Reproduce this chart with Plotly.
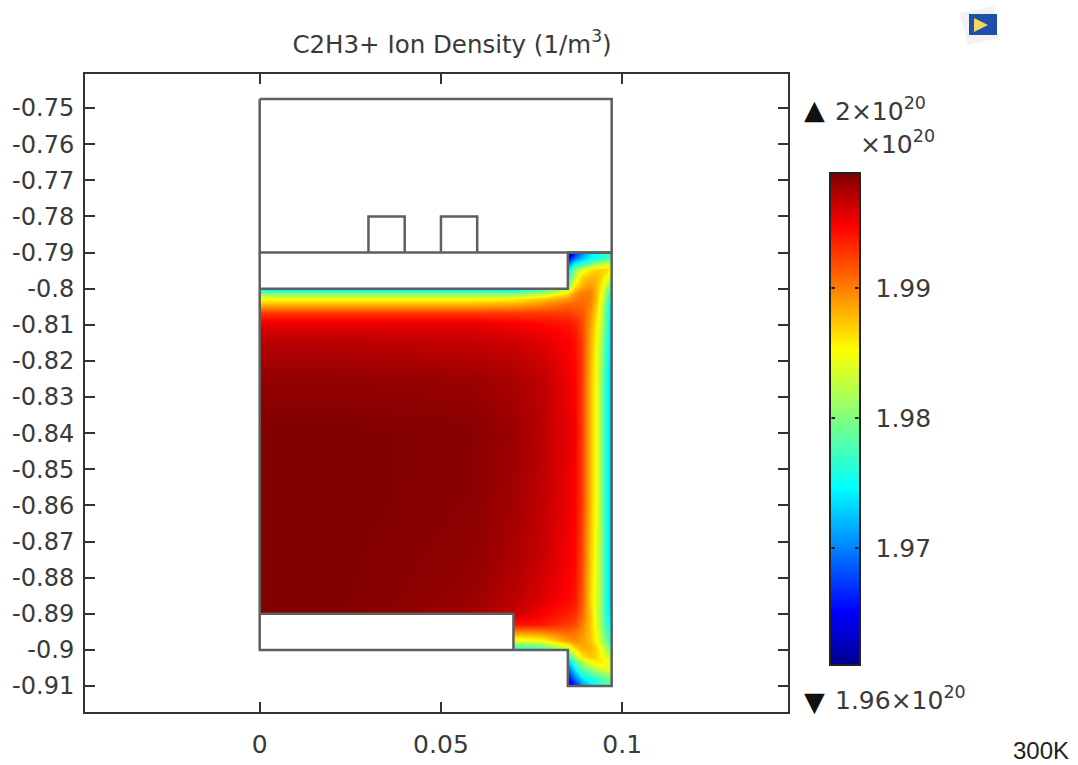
import numpy as np
import plotly.graph_objects as go

W, H = 1078, 765
L, R, T, B = 85, 788, 74, 712
X_RANGE = [(L - 259.7) / 3625, (R - 259.7) / 3625]
Y_RANGE = [-0.75 - (B - 108) / 3612.5, -0.75 + (108 - T) / 3612.5]

title_text = "C2H3+ Ion Density (1/m<sup>3</sup>)"
x_ticks = [0, 0.05, 0.1]
x_tick_labels = ["0", "0.05", "0.1"]
y_ticks = [round(-0.75 - 0.01 * i, 2) for i in range(17)]
y_tick_labels = ["-0.75", "-0.76", "-0.77", "-0.78", "-0.79", "-0.8", "-0.81", "-0.82", "-0.83",
                 "-0.84", "-0.85", "-0.86", "-0.87", "-0.88", "-0.89", "-0.9", "-0.91"]
cbar_ticks = [1.97, 1.98, 1.99]
z_min, z_max = 1.961, 1.99885

# grid positions (m)
grid_x = [0, .0193, .0386, .0579, .07, .0775, .085, .0868, .0888, .091, .0927, .094, .0955, .0971]
grid_y = [-.79, -.7914, -.7931, -.7947, -.797, -.799, -.80, -.8011, -.8028, -.8044, -.8066, -.8097,
          -.815, -.825, -.839, -.858, -.875, -.886, -.89, -.893, -.895, -.8973, -.8987, -.90,
          -.9017, -.9033, -.9055, -.9077, -.91]

# density (1e20 / m^3), one row per grid_y
density = [
 [1.973,1.973,1.973,1.973,1.973,1.976,1.962,1.966,1.970,1.974,1.975,1.976,1.977,1.977],
 [1.973,1.973,1.973,1.973,1.973,1.976,1.964,1.969,1.972,1.974,1.975,1.976,1.977,1.977],
 [1.973,1.973,1.973,1.973,1.973,1.976,1.969,1.975,1.976,1.979,1.981,1.982,1.983,1.982],
 [1.973,1.973,1.973,1.973,1.973,1.976,1.973,1.980,1.984,1.986,1.987,1.987,1.987,1.985],
 [1.973,1.973,1.973,1.973,1.973,1.976,1.976,1.983,1.987,1.988,1.988,1.987,1.985,1.982],
 [1.973,1.973,1.973,1.973,1.973,1.976,1.979,1.986,1.988,1.989,1.988,1.986,1.983,1.979],
 [1.973,1.973,1.973,1.973,1.973,1.976,1.982,1.987,1.989,1.9895,1.988,1.986,1.982,1.977],
 [1.979,1.979,1.979,1.979,1.979,1.981,1.986,1.989,1.990,1.990,1.988,1.985,1.981,1.975],
 [1.985,1.985,1.985,1.985,1.9855,1.987,1.989,1.990,1.9905,1.990,1.988,1.985,1.980,1.974],
 [1.988,1.988,1.988,1.988,1.9885,1.9895,1.991,1.991,1.991,1.990,1.9875,1.984,1.979,1.973],
 [1.9925,1.9925,1.9925,1.9925,1.9925,1.9925,1.9925,1.992,1.9915,1.9895,1.987,1.984,1.978,1.973],
 [1.9955,1.9955,1.9955,1.9955,1.995,1.9945,1.994,1.9935,1.992,1.989,1.986,1.983,1.978,1.972],
 [1.9970,1.9970,1.9968,1.9966,1.9963,1.9958,1.9948,1.9942,1.9925,1.9885,1.9855,1.982,1.977,1.972],
 [1.9982,1.9982,1.9981,1.9979,1.9974,1.9968,1.9952,1.9947,1.9925,1.988,1.985,1.981,1.976,1.972],
 [1.9988,1.9988,1.9987,1.9986,1.9979,1.9970,1.9955,1.995,1.9925,1.988,1.985,1.981,1.976,1.972],
 [1.9988,1.9988,1.9987,1.9985,1.9977,1.9968,1.9953,1.9947,1.9925,1.988,1.985,1.981,1.976,1.972],
 [1.9988,1.9988,1.9986,1.9983,1.9974,1.9965,1.995,1.9945,1.992,1.9875,1.9845,1.981,1.976,1.972],
 [1.9988,1.9988,1.9985,1.9980,1.9969,1.9958,1.9945,1.994,1.9915,1.987,1.984,1.981,1.976,1.972],
 [1.9988,1.9988,1.9984,1.9977,1.9965,1.995,1.9935,1.993,1.991,1.9875,1.984,1.981,1.976,1.973],
 [1.9988,1.9988,1.9982,1.9975,1.994,1.9938,1.9925,1.992,1.990,1.9875,1.9845,1.981,1.977,1.974],
 [1.9988,1.9988,1.9982,1.9975,1.9895,1.990,1.991,1.9905,1.9895,1.9875,1.985,1.982,1.978,1.975],
 [1.9988,1.9988,1.9982,1.9975,1.984,1.985,1.989,1.9895,1.989,1.9875,1.9855,1.983,1.979,1.976],
 [1.9988,1.9988,1.9982,1.9975,1.979,1.980,1.985,1.988,1.9885,1.988,1.9865,1.984,1.981,1.978],
 [1.975,1.975,1.975,1.975,1.975,1.976,1.982,1.986,1.988,1.988,1.9868,1.985,1.982,1.979],
 [1.975,1.975,1.975,1.975,1.975,1.976,1.976,1.982,1.986,1.9875,1.9868,1.9855,1.984,1.981],
 [1.975,1.975,1.975,1.975,1.975,1.976,1.972,1.978,1.982,1.985,1.986,1.986,1.985,1.983],
 [1.975,1.975,1.975,1.975,1.975,1.976,1.968,1.974,1.978,1.980,1.982,1.983,1.984,1.984],
 [1.975,1.975,1.975,1.975,1.975,1.976,1.965,1.970,1.974,1.976,1.977,1.978,1.979,1.980],
 [1.975,1.975,1.975,1.975,1.975,1.976,1.962,1.965,1.970,1.973,1.975,1.976,1.977,1.978],
]

# geometry outlines (m)
outline_top = ([0, .0971, .0971, 0, 0], [-.7475, -.7475, -.79, -.79, -.7475])
outline_fin1 = ([.03, .03, .04, .04], [-.79, -.78, -.78, -.79])
outline_fin2 = ([.05, .05, .06, .06], [-.79, -.78, -.78, -.79])
outline_body = ([0, .085, .085, .0971, .0971, .085, .085, .07, .07, 0, 0, .07, .07, 0, 0, 0, 0, .085],
                [-.80, -.80, -.79, -.79, -.91, -.91, -.90, -.90, -.89, -.89, -.90, -.90, -.89, -.89, -.79, -.79, -.80, -.80])
mask_upper = (-.001, -.80, .085, -.789)
mask_lower = (-.001, -.90, .07, -.89)
mask_under = (-.001, -.911, .085, -.90)

jet = [[0, "#00008f"], [.11, "#0000ff"], [.36, "#00ffff"], [.64, "#ffff00"], [.89, "#ff0000"], [1, "#800000"]]
TXT = "#3a3a3a"
LINE = "#5f5f5f"
FONT = "DejaVu Sans"


def px(x):
    return (x - L) / (R - L)


def py(y):
    return (B - y) / (B - T)


# thin edge cells keep the colour field inside the domain
eps = 1e-5
gx = [grid_x[0] - eps] + grid_x + [grid_x[-1] + eps]
gy = [grid_y[0] + eps] + grid_y + [grid_y[-1] - eps]
gz = np.pad(np.array(density), 1, mode="edge")

fig = go.Figure()
fig.add_trace(go.Heatmap(
    x=gx, y=gy, z=gz, zmin=z_min, zmax=z_max, zsmooth="best", colorscale=jet, hoverinfo="skip",
    colorbar=dict(
        x=px(830), xanchor="left", xpad=0, y=py(173), yanchor="top", ypad=0,
        thickness=30, thicknessmode="pixels", len=492, lenmode="pixels",
        tickvals=cbar_ticks, ticktext=[f"{v:.2f}" for v in cbar_ticks],
        ticks="outside", ticklen=10, tickcolor="rgba(0,0,0,0)",
        tickfont=dict(family=FONT, size=25, color=TXT),
        outlinecolor="#222222", outlinewidth=2, borderwidth=0,
    ),
))

# white areas of the geometry sit over the colour field and under the outlines
for x0, y0, x1, y1 in (mask_upper, mask_lower, mask_under):
    fig.add_trace(go.Scatter(x=[x0, x1, x1, x0, x0], y=[y0, y0, y1, y1, y0], mode="lines", fill="toself",
                             fillcolor="white", line=dict(width=0, color="white"),
                             showlegend=False, hoverinfo="skip"))

for name, (xs, ys) in {"top": outline_top, "fin1": outline_fin1, "fin2": outline_fin2,
                       "body": outline_body}.items():
    fig.add_trace(go.Scatter(x=xs, y=ys, mode="lines", line=dict(color=LINE, width=2.5),
                             showlegend=False, hoverinfo="skip", name=name))

shapes = [
    dict(type="path", xref="paper", yref="paper", layer="above",
         path=f"M{px(960)},{py(13)} L{px(994)},{py(6)} L{px(998)},{py(38)} L{px(968)},{py(45)} Z",
         fillcolor="#f2f2f2", line_width=0),
    dict(type="rect", xref="paper", yref="paper", layer="above",
         x0=px(969), x1=px(997), y0=py(35), y1=py(14), fillcolor="#1f4fa8", line_width=0),
    dict(type="path", xref="paper", yref="paper", layer="above",
         path=f"M{px(974)},{py(18)} L{px(988)},{py(25)} L{px(974)},{py(32)} Z",
         fillcolor="#f2d75a", line_width=0),
]

ann = [
    dict(text="▲", x=px(814), y=py(110), size=27),
    dict(text="2×10<sup>20</sup>", x=px(880), y=py(110), size=25),
    dict(text="×10<sup>20</sup>", x=px(897), y=py(143), size=25),
    dict(text="▼", x=px(814), y=py(701), size=27),
    dict(text="1.96×10<sup>20</sup>", x=px(900), y=py(698), size=25),
]
annotations = [dict(text=a["text"], x=a["x"], y=a["y"], xref="paper", yref="paper", showarrow=False,
                    xanchor="center", yanchor="middle",
                    font=dict(family=FONT, size=a["size"], color="#111111" if a["text"] in "▲▼" else TXT))
               for a in ann]
annotations.append(dict(text="300K", x=px(1041), y=py(750), xref="paper", yref="paper", showarrow=False,
                        xanchor="center", yanchor="middle",
                        font=dict(family="Liberation Sans", size=24, color="#222222")))
# small ticks inside the colour bar, placed from the tick values
for v in cbar_ticks:
    yy = py(173 + (z_max - v) / (z_max - z_min) * 492)
    for tip, offset in ((835, -5), (855, 5)):
        annotations.append(dict(text="", x=px(tip), y=yy, xref="paper", yref="paper", showarrow=True,
                                ax=offset, ay=0, axref="pixel", ayref="pixel", arrowhead=0,
                                arrowwidth=2, arrowcolor="#222222", standoff=0, startstandoff=0))

axis = dict(showgrid=False, zeroline=False, showline=True, mirror="ticks", linecolor="#333333", linewidth=2,
            ticks="inside", ticklen=10, tickwidth=2, tickcolor="#333333")
fig.update_layout(
    width=W, height=H, autosize=False, paper_bgcolor="white", plot_bgcolor="white", showlegend=False,
    margin=dict(l=L, r=W - R, t=T, b=H - B, autoexpand=False),
    title=dict(text=title_text, x=452 / W, xref="container", xanchor="center",
               y=1 - 44 / H, yref="container", yanchor="middle",
               font=dict(family=FONT, size=24.5, color=TXT)),
    xaxis=dict(axis, range=X_RANGE, tickvals=x_ticks, ticktext=x_tick_labels,
               tickfont=dict(family=FONT, size=25, color=TXT), ticklabelstandoff=9),
    yaxis=dict(axis, range=Y_RANGE, tickvals=y_ticks, ticktext=y_tick_labels,
               tickfont=dict(family=FONT, size=24, color=TXT), ticklabelstandoff=4),
    shapes=shapes, annotations=annotations,
)
fig.write_html("out.html", config={"displayModeBar": False},
               post_script="document.body.style.margin='0';document.body.style.overflow='hidden';")
